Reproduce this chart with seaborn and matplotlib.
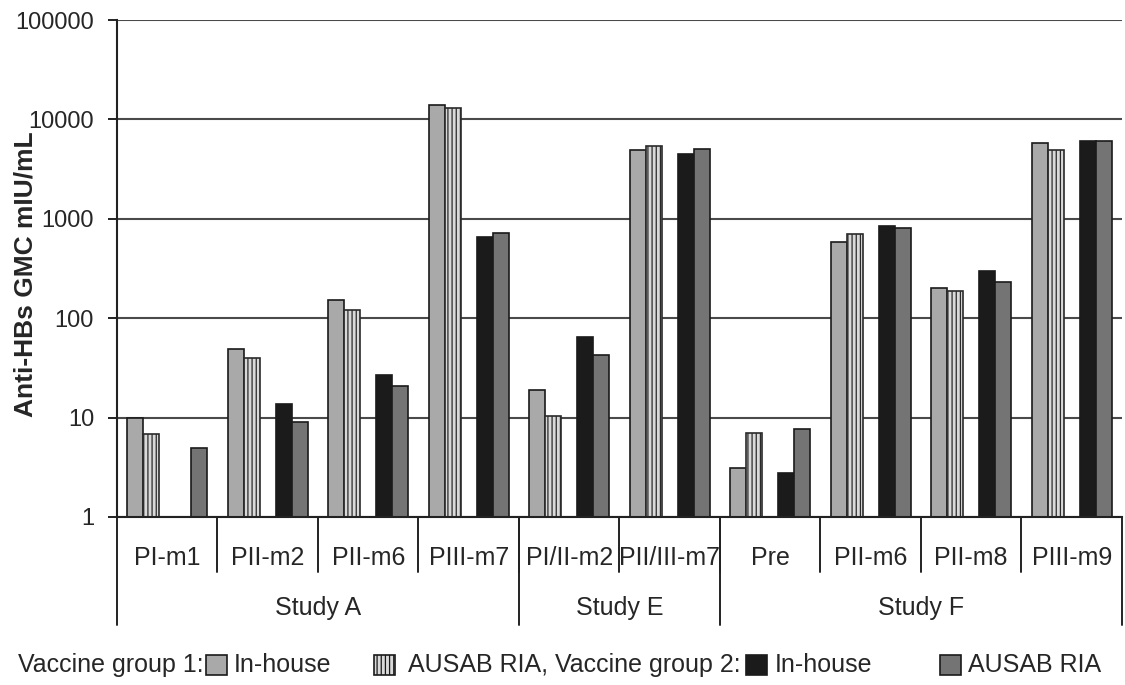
import numpy as np
import pandas as pd
import matplotlib
matplotlib.use("Agg")
import matplotlib.pyplot as plt
import matplotlib.colors as mcolors
from matplotlib.patches import Rectangle
from matplotlib.ticker import NullLocator
import seaborn as sns

# Time points per study (tick labels) and study grouping
categories = ["PI-m1", "PII-m2", "PII-m6", "PIII-m7", "PI/II-m2", "PII/III-m7",
              "Pre", "PII-m6", "PII-m8", "PIII-m9"]
studies = ["Study A", "Study E", "Study F"]
study_sizes = [4, 2, 4]

# Anti-HBs GMC (mIU/mL)
g1_inhouse = [10.0, 49, 152, 13900, 19, 4900, 3.1, 590, 203, 5850]
g1_ausab = [6.8, 40, 122, 13000, 10.4, 5450, 7.0, 700, 186, 4900]
g2_inhouse = [np.nan, 13.7, 26.8, 660, 64, 4500, 2.8, 855, 300, 6100]
g2_ausab = [4.9, 9.1, 20.6, 715, 43, 5050, 7.7, 810, 233, 6100]

yticks = [1, 10, 100, 1000, 10000, 100000]
ytick_labels = ["1", "10", "100", "1000", "10000", "100000"]

c_light = "#a9a9a9"
c_hatch = "#d9d9d9"
c_black = "#1b1b1b"
c_dark = "#747474"

series = ["g1_in", "g1_ausab", "spacer", "g2_in", "g2_ausab"]
palette = {"g1_in": c_light, "g1_ausab": c_hatch, "spacer": "white",
           "g2_in": c_black, "g2_ausab": c_dark}

slots = [f"t{i}" for i in range(len(categories))]
rows = []
for key, vals in zip(["g1_in", "g1_ausab", "g2_in", "g2_ausab"],
                     [g1_inhouse, g1_ausab, g2_inhouse, g2_ausab]):
    for s, v in zip(slots, vals):
        rows.append({"slot": s, "series": key, "gmc": v})
df = pd.DataFrame(rows).dropna()

sns.set_style("white")
plt.rcParams["font.family"] = ["Liberation Sans", "DejaVu Sans"]
plt.rcParams["hatch.linewidth"] = 0.9

fig = plt.figure(figsize=(11.25, 6.85), dpi=100)
ax = fig.add_axes([0.104, 0.2453, 0.8933, 0.7255])
ax.set_yscale("log")

sns.barplot(data=df, x="slot", y="gmc", hue="series", order=slots,
            hue_order=series, palette=palette, dodge=True, width=0.8,
            errorbar=None, edgecolor="#1a1a1a",
            linewidth=1.2, legend=False, ax=ax)

hatch_rgba = mcolors.to_rgba(c_hatch)
for p in ax.patches:
    if np.allclose(p.get_facecolor(), hatch_rgba, atol=0.01):
        p.set_hatch("||||")
        p.set_edgecolor("#2a2a2a")

ax.set_ylim(1, 100000)
ax.set_xlim(-0.5, len(categories) - 0.5)
ax.set_yticks(yticks)
ax.set_yticklabels(ytick_labels)
ax.yaxis.set_minor_locator(NullLocator())
ax.tick_params(axis="y", labelsize=17, length=6.5, width=1.4, color="#222222",
               pad=10, left=True, direction="out")
ax.yaxis.grid(True, color="#4a4a4a", linewidth=1.5)
ax.set_axisbelow(True)

ax.set_xticks(range(len(categories)))
ax.set_xticklabels(categories)
ax.tick_params(axis="x", labelsize=18, length=0, pad=21)
ax.set_xlabel("")
ax.set_ylabel("Anti-HBs GMC mIU/mL", fontsize=19, fontweight="bold")
ax.yaxis.set_label_coords(-0.0796, 0.488)

for side in ["top", "right"]:
    ax.spines[side].set_visible(False)
for side in ["left", "bottom"]:
    ax.spines[side].set_color("#222222")
    ax.spines[side].set_linewidth(1.5)

# Separators under the axis: short ones between time points,
# long ones between studies
trans = ax.get_xaxis_transform()
for i in range(1, len(categories)):
    ax.plot([i - 0.5, i - 0.5], [0, -0.111], transform=trans, color="#222222",
            lw=1.4, clip_on=False)
edges = np.concatenate([[0], np.cumsum(study_sizes)]) - 0.5
for e in edges:
    ax.plot([e, e], [0, -0.218], transform=trans, color="#222222",
            lw=1.4, clip_on=False)
for name, a, b in zip(studies, edges[:-1], edges[1:]):
    ax.text((a + b) / 2, -0.183, name, transform=trans, ha="center",
            va="center", fontsize=18)

# Legend row along the bottom
W, H = 1125.0, 685.0
ly = 665
fs = 18
def ftext(x, s):
    fig.text(x / W, 1 - ly / H, s, ha="left", va="center", fontsize=fs)
def fpatch(x, color, hatch=None):
    r = Rectangle((x / W, 1 - (ly + 10) / H), 21 / W, 20 / H,
                  transform=fig.transFigure, facecolor=color,
                  edgecolor="#1a1a1a", linewidth=1.2, hatch=hatch)
    fig.patches.append(r)

ftext(18, "Vaccine group 1:")
fpatch(206, c_light)
ftext(234, "In-house")
fpatch(374, c_hatch, "||||")
ftext(408, "AUSAB RIA, Vaccine group 2:")
fpatch(746, c_black)
ftext(775, "In-house")
fpatch(940, c_dark)
ftext(968, "AUSAB RIA")

fig.savefig("out.png", dpi=100, facecolor="white")
